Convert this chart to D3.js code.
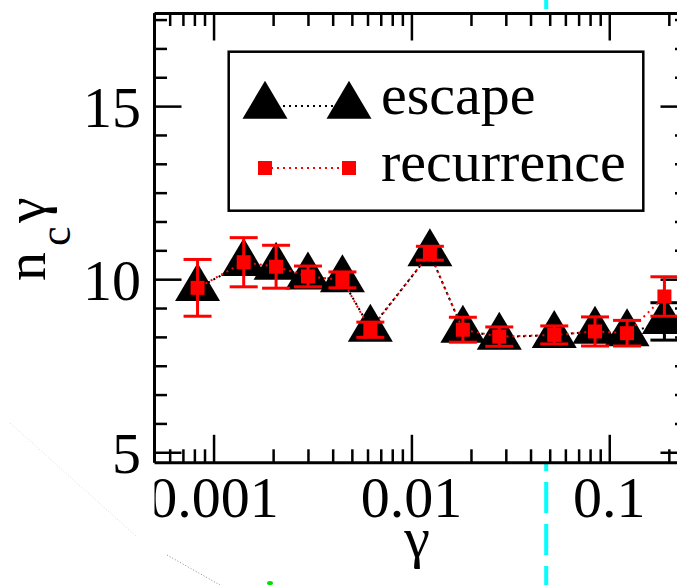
<!DOCTYPE html>
<html>
<head>
<meta charset="utf-8">
<script src="https://cdn.jsdelivr.net/npm/d3@7"></script>
<style>
  body { margin: 0; background: #fff; }
  svg { display: block; }
</style>
</head>
<body>
<script>
const width = 677,
  height = 585;
const serif = '"Liberation Serif"';

// data
const gammas = [0.00083, 0.00142, 0.00207, 0.0030, 0.00448, 0.0062, 0.0124, 0.0182, 0.0278, 0.0527, 0.0847, 0.123, 0.19];
const escape = [9.74, 10.46, 10.35, 10.07, 9.99, 8.56, 10.74, 8.53, 8.33, 8.38, 8.5, 8.43, 8.78];
const escapeErr = [0, 0, 0, 0, 0, 0, 0, 0, 0, 0, 0, 0, 0.54];
const recurrence = [9.75, 10.49, 10.36, 10.08, 9.98, 8.54, 10.75, 8.54, 8.34, 8.39, 8.49, 8.44, 9.5];
const recurrenceErr = [0.82, 0.71, 0.62, 0.3, 0.23, 0.22, 0.2, 0.36, 0.28, 0.26, 0.42, 0.37, 0.57];
const xMajor = [0.001, 0.01, 0.1];
const yMajor = [5, 10, 15];
const gammaMark = 0.048;

const plot = { left: 154, right: 688, top: 13, bottom: 462.3 };

const x = d3.scaleLog().domain([0.0005, 0.25]).range([plot.left, plot.right]);
const y = d3.scaleLinear().domain([4.71, 17.69]).range([plot.bottom, plot.top]);

const xMinor = [];
[0.0001, 0.001, 0.01, 0.1].forEach((dec) => {
  for (let m = 2; m <= 9; m++) xMinor.push(dec * m);
});
const xMinorIn = xMinor.filter((v) => v >= 0.0005 && v <= 0.25);
const yMinor = d3.range(0, 24).map((i) => i * (5 / 6)).filter((v) => v > 4.71 && v < 17.69 && v % 5 !== 0);

const svg = d3.select("body").append("svg").attr("width", width).attr("height", height);

// cyan dashed marker line (sits behind the white plot area)
svg.append("line")
  .attr("x1", x(gammaMark)).attr("x2", x(gammaMark))
  .attr("y1", -22).attr("y2", 600)
  .attr("stroke", "#00ffff")
  .attr("stroke-width", 4)
  .attr("stroke-dasharray", "31,11");

// faint stray strokes bottom left
svg.append("line")
  .attr("x1", 10).attr("y1", 423).attr("x2", 137).attr("y2", 537)
  .attr("stroke", "#bfeebf").attr("stroke-width", 1).attr("stroke-dasharray", "1,2");
svg.append("line")
  .attr("x1", 167).attr("y1", 555).attr("x2", 220).attr("y2", 585)
  .attr("stroke", "#888").attr("stroke-width", 1).attr("stroke-dasharray", "1,2");
svg.append("ellipse").attr("cx", 270).attr("cy", 583).attr("rx", 3).attr("ry", 2).attr("fill", "#00e000");

// plot background
svg.append("rect")
  .attr("x", plot.left).attr("y", plot.top)
  .attr("width", plot.right - plot.left).attr("height", plot.bottom - plot.top)
  .attr("fill", "#fff");

// ---------- axes ----------
function styleAxis(g) {
  g.select(".domain").attr("stroke", "#000").attr("stroke-width", 3);
  g.selectAll(".tick line").attr("stroke", "#000").attr("stroke-width", 2.5);
  g.selectAll(".tick text").remove();
}

const axes = [
  { gen: d3.axisBottom, scale: x, pos: `translate(0,${plot.bottom})`, major: xMajor, minor: xMinorIn },
  { gen: d3.axisTop, scale: x, pos: `translate(0,${plot.top})`, major: xMajor, minor: xMinorIn },
  { gen: d3.axisLeft, scale: y, pos: `translate(${plot.left},0)`, major: yMajor, minor: yMinor },
  { gen: d3.axisRight, scale: y, pos: `translate(${plot.right},0)`, major: yMajor, minor: yMinor },
];

axes.forEach((a) => {
  svg.append("g")
    .attr("transform", a.pos)
    .call(a.gen(a.scale).tickValues(a.minor).tickSizeInner(-13).tickSizeOuter(0))
    .call(styleAxis)
    .call((g) => g.select(".domain").remove());
  svg.append("g")
    .attr("transform", a.pos)
    .call(a.gen(a.scale).tickValues(a.major).tickSizeInner(-27.5).tickSizeOuter(0))
    .call(styleAxis);
});

// tick labels
svg.append("clipPath").attr("id", "xlabclip")
  .append("rect").attr("x", plot.left + 0.5).attr("y", 470).attr("width", 600).attr("height", 80);

svg.append("g")
  .attr("clip-path", "url(#xlabclip)")
  .selectAll("text")
  .data(xMajor)
  .enter()
  .append("text")
  .attr("x", (d) => x(d))
  .attr("y", 517)
  .attr("text-anchor", "middle")
  .style("font-family", serif)
  .attr("font-size", 58)
  .text((d) => String(d));

svg.append("g")
  .selectAll("text")
  .data(yMajor)
  .enter()
  .append("text")
  .attr("x", 141)
  .attr("y", (d) => y(d) + 21)
  .attr("text-anchor", "end")
  .style("font-family", serif)
  .attr("font-size", 58)
  .text((d) => d);

// axis titles
svg.append("text")
  .attr("x", 417).attr("y", 557)
  .attr("text-anchor", "middle")
  .style("font-family", serif)
  .attr("font-size", 58)
  .text("γ");

svg.append("text")
  .attr("transform", "translate(45,281) rotate(-90)")
  .style("font-family", serif)
  .attr("font-size", 58)
  .text("n");
svg.append("text")
  .attr("transform", "translate(70,246) rotate(-90)")
  .style("font-family", serif)
  .attr("font-size", 44)
  .text("c");
svg.append("text")
  .attr("transform", "translate(45,223) rotate(-90)")
  .style("font-family", serif)
  .attr("font-size", 58)
  .text("γ");

// ---------- series ----------
const triPath = (cx, cy) =>
  `M${cx},${cy - 25.3}L${cx + 22.5},${cy + 12.7}L${cx - 22.5},${cy + 12.7}Z`;

const escPts = gammas.map((g, i) => ({ g, v: escape[i], e: escapeErr[i] }));
const recPts = gammas.map((g, i) => ({ g, v: recurrence[i], e: recurrenceErr[i] }));

const line = d3.line().x((d) => x(d.g)).y((d) => y(d.v));

svg.append("path")
  .datum(escPts)
  .attr("d", line)
  .attr("fill", "none")
  .attr("stroke", "#000")
  .attr("stroke-width", 2)
  .attr("stroke-dasharray", "2,4");

function errorBars(sel, pts, color) {
  const g = sel.append("g").attr("stroke", color).attr("stroke-width", 3);
  const withErr = pts.filter((d) => d.e > 0);
  g.selectAll(".eb")
    .data(withErr)
    .enter()
    .append("line")
    .attr("x1", (d) => x(d.g)).attr("x2", (d) => x(d.g))
    .attr("y1", (d) => y(d.v + d.e)).attr("y2", (d) => y(d.v - d.e));
  g.selectAll(".capTop")
    .data(withErr)
    .enter()
    .append("line")
    .attr("x1", (d) => x(d.g) - 14).attr("x2", (d) => x(d.g) + 14)
    .attr("y1", (d) => y(d.v + d.e)).attr("y2", (d) => y(d.v + d.e));
  g.selectAll(".capBot")
    .data(withErr)
    .enter()
    .append("line")
    .attr("x1", (d) => x(d.g) - 14).attr("x2", (d) => x(d.g) + 14)
    .attr("y1", (d) => y(d.v - d.e)).attr("y2", (d) => y(d.v - d.e));
}

errorBars(svg, escPts, "#000");

svg.append("g")
  .selectAll("path")
  .data(escPts)
  .enter()
  .append("path")
  .attr("d", (d) => triPath(x(d.g), y(d.v)))
  .attr("fill", "#000");

svg.append("path")
  .datum(recPts)
  .attr("d", line)
  .attr("fill", "none")
  .attr("stroke", "#ff0000")
  .attr("stroke-width", 2)
  .attr("stroke-dasharray", "2,4")
  .attr("stroke-dashoffset", 3);

errorBars(svg, recPts, "#ff0000");

svg.append("g")
  .selectAll("rect")
  .data(recPts)
  .enter()
  .append("rect")
  .attr("x", (d) => x(d.g) - 7)
  .attr("y", (d) => y(d.v) - 7)
  .attr("width", 14)
  .attr("height", 14)
  .attr("fill", "#ff0000");

// ---------- legend ----------
const legend = svg.append("g");
legend.append("rect")
  .attr("x", 228.7).attr("y", 51.7)
  .attr("width", 414.6).attr("height", 159)
  .attr("fill", "#fff")
  .attr("stroke", "#000")
  .attr("stroke-width", 2.5);

legend.append("line")
  .attr("x1", 265).attr("x2", 349).attr("y1", 106).attr("y2", 106)
  .attr("stroke", "#000").attr("stroke-width", 2).attr("stroke-dasharray", "2,4");
[265, 349].forEach((lx) => {
  legend.append("path").attr("d", triPath(lx, 106)).attr("fill", "#000");
});
legend.append("text").attr("x", 381).attr("y", 114)
  .style("font-family", serif).attr("font-size", 58).text("escape");

legend.append("line")
  .attr("x1", 265).attr("x2", 349).attr("y1", 168).attr("y2", 168)
  .attr("stroke", "#ff0000").attr("stroke-width", 2).attr("stroke-dasharray", "2,4");
[265, 349].forEach((lx) => {
  legend.append("rect").attr("x", lx - 7).attr("y", 161).attr("width", 14).attr("height", 14).attr("fill", "#ff0000");
});
legend.append("text").attr("x", 381).attr("y", 181)
  .style("font-family", serif).attr("font-size", 58).text("recurrence");
</script>
</body>
</html>
